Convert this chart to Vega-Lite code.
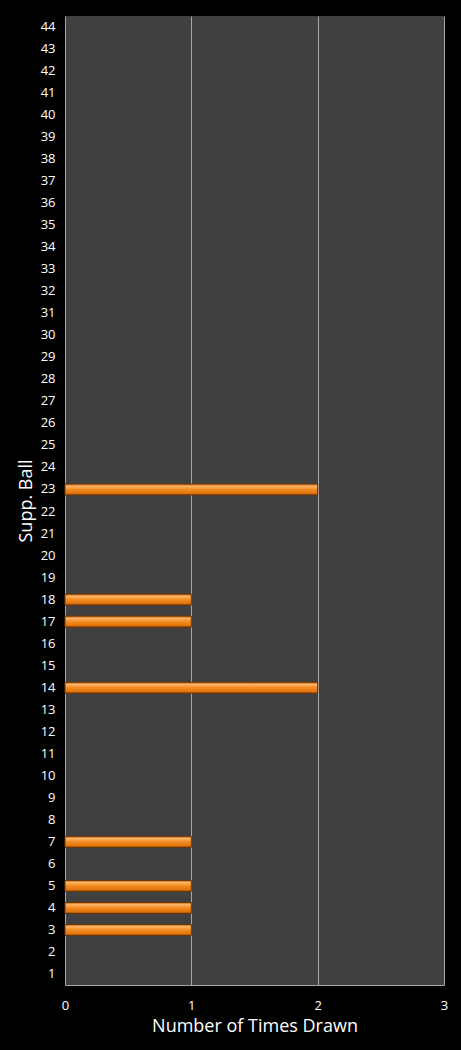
{
  "$schema": "https://vega.github.io/schema/vega-lite/v6.json",
  "autosize": "none",
  "padding": {"left": 65, "top": 16, "right": 17, "bottom": 65},
  "width": 379,
  "height": 969,
  "background": "#000000",
  "data": {
    "values": [
      {"ball": 1, "count": 0}, {"ball": 2, "count": 0}, {"ball": 3, "count": 1},
      {"ball": 4, "count": 1}, {"ball": 5, "count": 1}, {"ball": 6, "count": 0},
      {"ball": 7, "count": 1}, {"ball": 8, "count": 0}, {"ball": 9, "count": 0},
      {"ball": 10, "count": 0}, {"ball": 11, "count": 0}, {"ball": 12, "count": 0},
      {"ball": 13, "count": 0}, {"ball": 14, "count": 2}, {"ball": 15, "count": 0},
      {"ball": 16, "count": 0}, {"ball": 17, "count": 1}, {"ball": 18, "count": 1},
      {"ball": 19, "count": 0}, {"ball": 20, "count": 0}, {"ball": 21, "count": 0},
      {"ball": 22, "count": 0}, {"ball": 23, "count": 2}, {"ball": 24, "count": 0},
      {"ball": 25, "count": 0}, {"ball": 26, "count": 0}, {"ball": 27, "count": 0},
      {"ball": 28, "count": 0}, {"ball": 29, "count": 0}, {"ball": 30, "count": 0},
      {"ball": 31, "count": 0}, {"ball": 32, "count": 0}, {"ball": 33, "count": 0},
      {"ball": 34, "count": 0}, {"ball": 35, "count": 0}, {"ball": 36, "count": 0},
      {"ball": 37, "count": 0}, {"ball": 38, "count": 0}, {"ball": 39, "count": 0},
      {"ball": 40, "count": 0}, {"ball": 41, "count": 0}, {"ball": 42, "count": 0},
      {"ball": 43, "count": 0}, {"ball": 44, "count": 0}
    ]
  },
  "mark": {
    "type": "bar",
    "strokeWidth": 1,
    "color": {
      "gradient": "linear",
      "x1": 0, "y1": 0, "x2": 0, "y2": 1,
      "stops": [
        {"offset": 0, "color": "#c8640c"},
        {"offset": 0.2, "color": "#fbb56a"},
        {"offset": 0.5, "color": "#f58a1f"},
        {"offset": 0.85, "color": "#e0750f"},
        {"offset": 1, "color": "#9a4a08"}
      ]
    }
  },
  "encoding": {
    "y": {
      "field": "ball",
      "type": "ordinal",
      "sort": "descending",
      "scale": {"paddingInner": 0.5, "paddingOuter": 0.25},
      "title": "Supp. Ball",
      "axis": {
        "ticks": false,
        "domain": false,
        "labelPadding": 10,
        "labelFontSize": 13,
        "labelColor": "#ffffff",
        "labelFont": "Open Sans",
        "titleFont": "Open Sans",
        "titleFontSize": 18,
        "titleFontWeight": "normal",
        "titleColor": "#ffffff",
        "titlePadding": 5
      }
    },
    "x": {
      "field": "count",
      "type": "quantitative",
      "scale": {"domain": [0, 3], "nice": false},
      "title": "Number of Times Drawn",
      "axis": {
        "values": [0, 1, 2, 3],
        "ticks": false,
        "domainColor": "#a6a6a6",
        "gridColor": "#a6a6a6",
        "gridWidth": 1,
        "labelPadding": 14,
        "labelFontSize": 13,
        "labelColor": "#ffffff",
        "labelFont": "Open Sans",
        "labelFlush": false,
        "titleFont": "Open Sans",
        "titleFontSize": 18,
        "titleFontWeight": "normal",
        "titleColor": "#ffffff",
        "titlePadding": 5
      }
    },
    "stroke": {
      "condition": {"test": "datum.count > 0", "value": "#6a3606"},
      "value": null
    }
  },
  "config": {
    "view": {"fill": "#404040", "stroke": null}
  }
}
